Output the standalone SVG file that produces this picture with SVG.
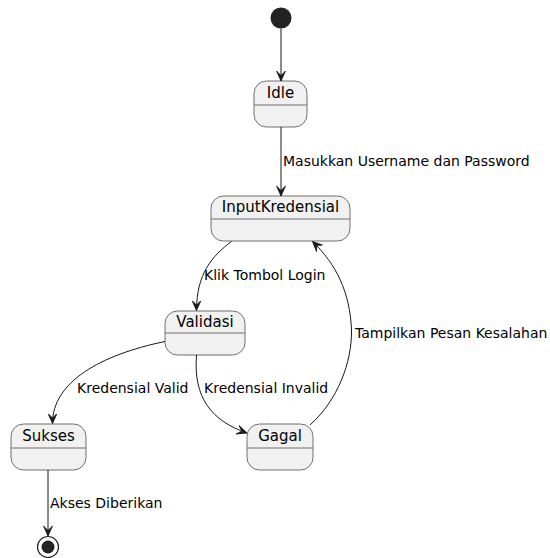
<svg xmlns="http://www.w3.org/2000/svg" width="550" height="558" viewBox="0 0 550 558">
  <style>
    .state rect { fill: #F1F1F1; stroke: #6f6f6f; stroke-width: 1; }
    .state line { stroke: #6f6f6f; stroke-width: 1; }
    .name { font-family: "DejaVu Sans", "Liberation Sans", sans-serif; font-size: 15px; fill: #000; text-anchor: middle; }
    .lbl { font-family: "DejaVu Sans", "Liberation Sans", sans-serif; font-size: 14px; fill: #000; }
    .edge { fill: none; stroke: #181818; stroke-width: 1; marker-end: url(#arrow); }
  </style>
  <defs>
    <marker id="arrow" viewBox="0 0 10 10" refX="10" refY="5" markerWidth="10" markerHeight="10" markerUnits="userSpaceOnUse" orient="auto">
      <path d="M10,5 L0,0.5 L4.5,5 L0,9.5 Z" fill="#181818" stroke="#181818" stroke-width="0.8" stroke-linejoin="miter"/>
    </marker>
  </defs>

  <!-- initial pseudo-state -->
  <g id="start">
    <circle cx="281" cy="18" r="10.5" fill="#222222"/>
  </g>

  <g id="Idle" class="state">
    <rect x="254" y="81" width="53" height="46" rx="12.5"/>
    <line x1="254" y1="105" x2="307" y2="105"/>
    <text class="name" x="280.5" y="98">Idle</text>
  </g>

  <g id="InputKredensial" class="state">
    <rect x="211" y="196" width="139" height="45" rx="12.5"/>
    <line x1="211" y1="219" x2="350" y2="219"/>
    <text class="name" x="280.5" y="212">InputKredensial</text>
  </g>

  <g id="Validasi" class="state">
    <rect x="165" y="311" width="80" height="44" rx="12.5"/>
    <line x1="165" y1="333" x2="245" y2="333"/>
    <text class="name" x="205" y="327">Validasi</text>
  </g>

  <g id="Sukses" class="state">
    <rect x="11" y="424" width="75" height="46" rx="12.5"/>
    <line x1="11" y1="448" x2="86" y2="448"/>
    <text class="name" x="48.5" y="441">Sukses</text>
  </g>

  <g id="Gagal" class="state">
    <rect x="247" y="424" width="66" height="46" rx="12.5"/>
    <line x1="247" y1="448" x2="313" y2="448"/>
    <text class="name" x="280" y="441">Gagal</text>
  </g>

  <!-- final pseudo-state -->
  <g id="end">
    <circle cx="48" cy="547" r="10.5" fill="none" stroke="#222222" stroke-width="1.2"/>
    <circle cx="48" cy="547" r="6.5" fill="#222222"/>
  </g>

  <g id="connectors">
    <line class="edge" x1="281" y1="28.5" x2="281" y2="81"/>
    <line class="edge" x1="281" y1="127" x2="281" y2="196"/>
    <path class="edge" d="M231.5,241.5 C212,256 196.5,274 196.5,310.5"/>
    <path class="edge" d="M165,341.5 C100,355 52.5,382 52.5,423.5"/>
    <path class="edge" d="M196.5,355 C193,398 212,421 247,433"/>
    <path class="edge" d="M310,425 C338,400 352,362 351.5,330 C350,292 336,264 312.5,241.5"/>
    <line class="edge" x1="48" y1="470" x2="48" y2="536"/>

    <text class="lbl" x="283" y="166">Masukkan Username dan Password</text>
    <text class="lbl" x="204" y="280">Klik Tombol Login</text>
    <text class="lbl" x="77" y="393">Kredensial Valid</text>
    <text class="lbl" x="204" y="393">Kredensial Invalid</text>
    <text class="lbl" x="355" y="338">Tampilkan Pesan Kesalahan</text>
    <text class="lbl" x="50" y="508">Akses Diberikan</text>
  </g>
</svg>
